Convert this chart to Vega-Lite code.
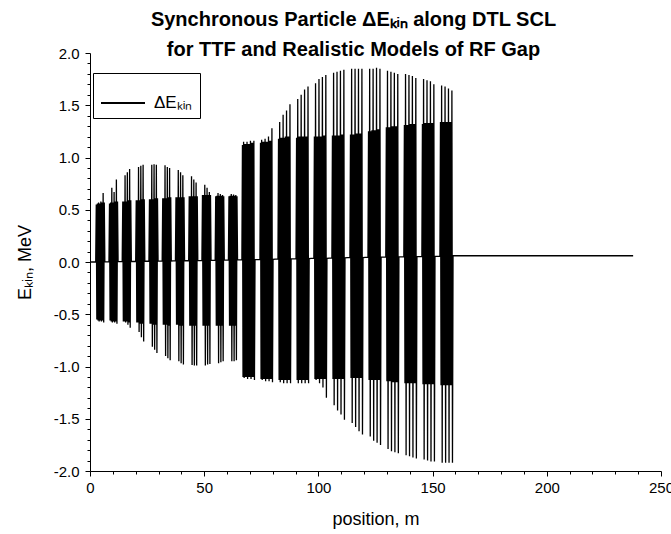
{
"$schema": "https://vega.github.io/schema/vega-lite/v6.json",
"width": 571, "height": 418,
"autosize": {"type": "none"},
"padding": {"left": 90, "top": 53, "right": 10, "bottom": 63},
"background": "white",
"title": {"text": ["Synchronous Particle ΔEₖᵢₙ along DTL SCL", "for TTF and Realistic Models of RF Gap"], "font": "Liberation Sans", "fontSize": 20, "fontWeight": "bold", "lineHeight": 30, "offset": -14, "dx": -22, "anchor": "middle", "color": "black"},
"data": {"values": [
{"x":0,"y":0},
{"x":2.5,"y":0},{"x":2.75,"y":0.55},{"x":3,"y":-0.55},{"x":3.25,"y":0.56},{"x":3.5,"y":-0.56},{"x":3.75,"y":0.57},{"x":4,"y":-0.57},{"x":4.25,"y":0.56},{"x":4.5,"y":-0.56},{"x":4.75,"y":0.58},{"x":5,"y":-0.57},{"x":5.25,"y":0.57},{"x":5.5,"y":-0.56},{"x":5.75,"y":0.66},{"x":6,"y":-0.58},{"x":6.25,"y":0.57},{"x":6.5,"y":0.002},
{"x":8.3,"y":0.003},{"x":8.55,"y":0.56},{"x":8.8,"y":-0.56},{"x":9.05,"y":0.57},{"x":9.3,"y":-0.57},{"x":9.55,"y":0.71},{"x":9.8,"y":-0.58},{"x":10.05,"y":0.57},{"x":10.3,"y":-0.57},{"x":10.55,"y":0.67},{"x":10.8,"y":-0.58},{"x":11.05,"y":0.58},{"x":11.3,"y":-0.57},{"x":11.55,"y":0.79},{"x":11.8,"y":-0.59},{"x":12.05,"y":0.58},{"x":12.3,"y":0.003},
{"x":14.1,"y":0.005},{"x":14.35,"y":0.58},{"x":14.6,"y":-0.57},{"x":14.85,"y":0.58},{"x":15.1,"y":-0.57},{"x":15.35,"y":0.83},{"x":15.6,"y":-0.58},{"x":15.85,"y":0.58},{"x":16.1,"y":-0.57},{"x":16.35,"y":0.86},{"x":16.6,"y":-0.6},{"x":16.85,"y":0.59},{"x":17.1,"y":-0.58},{"x":17.35,"y":0.89},{"x":17.6,"y":-0.63},{"x":17.85,"y":0.59},{"x":18.1,"y":0.005},
{"x":20,"y":0.007},{"x":20.25,"y":0.59},{"x":20.5,"y":-0.58},{"x":20.75,"y":0.59},{"x":21,"y":-0.58},{"x":21.25,"y":0.91},{"x":21.5,"y":-0.67},{"x":21.75,"y":0.59},{"x":22,"y":-0.59},{"x":22.25,"y":0.92},{"x":22.5,"y":-0.72},{"x":22.75,"y":0.6},{"x":23,"y":-0.59},{"x":23.25,"y":0.93},{"x":23.5,"y":-0.76},{"x":23.75,"y":0.6},{"x":24,"y":0.007},
{"x":25.8,"y":0.009},{"x":26.05,"y":0.6},{"x":26.3,"y":-0.59},{"x":26.55,"y":0.6},{"x":26.8,"y":-0.59},{"x":27.05,"y":0.93},{"x":27.3,"y":-0.81},{"x":27.55,"y":0.6},{"x":27.8,"y":-0.6},{"x":28.05,"y":0.935},{"x":28.3,"y":-0.84},{"x":28.55,"y":0.61},{"x":28.8,"y":-0.6},{"x":29.05,"y":0.93},{"x":29.3,"y":-0.87},{"x":29.55,"y":0.61},{"x":29.8,"y":0.009},
{"x":31.6,"y":0.01},{"x":31.85,"y":0.61},{"x":32.1,"y":-0.6},{"x":32.35,"y":0.61},{"x":32.6,"y":-0.6},{"x":32.85,"y":0.925},{"x":33.1,"y":-0.9},{"x":33.35,"y":0.61},{"x":33.6,"y":-0.6},{"x":33.85,"y":0.91},{"x":34.1,"y":-0.92},{"x":34.35,"y":0.62},{"x":34.6,"y":-0.61},{"x":34.85,"y":0.9},{"x":35.1,"y":-0.94},{"x":35.35,"y":0.62},{"x":35.6,"y":0.01},
{"x":37.4,"y":0.012},{"x":37.65,"y":0.62},{"x":37.9,"y":-0.6},{"x":38.15,"y":0.62},{"x":38.4,"y":-0.6},{"x":38.65,"y":0.88},{"x":38.9,"y":-0.95},{"x":39.15,"y":0.62},{"x":39.4,"y":-0.61},{"x":39.65,"y":0.86},{"x":39.9,"y":-0.97},{"x":40.15,"y":0.62},{"x":40.4,"y":-0.61},{"x":40.65,"y":0.83},{"x":40.9,"y":-0.98},{"x":41.15,"y":0.62},{"x":41.4,"y":0.012},
{"x":43.2,"y":0.014},{"x":43.45,"y":0.63},{"x":43.7,"y":-0.61},{"x":43.95,"y":0.63},{"x":44.2,"y":-0.61},{"x":44.45,"y":0.82},{"x":44.7,"y":-0.985},{"x":44.95,"y":0.63},{"x":45.2,"y":-0.61},{"x":45.45,"y":0.79},{"x":45.7,"y":-0.99},{"x":45.95,"y":0.63},{"x":46.2,"y":-0.61},{"x":46.45,"y":0.76},{"x":46.7,"y":-0.99},{"x":46.95,"y":0.63},{"x":47.2,"y":0.014},
{"x":49,"y":0.016},{"x":49.25,"y":0.64},{"x":49.5,"y":-0.61},{"x":49.75,"y":0.64},{"x":50,"y":-0.61},{"x":50.25,"y":0.74},{"x":50.5,"y":-0.99},{"x":50.75,"y":0.64},{"x":51,"y":-0.61},{"x":51.25,"y":0.71},{"x":51.5,"y":-0.98},{"x":51.75,"y":0.64},{"x":52,"y":-0.61},{"x":52.25,"y":0.67},{"x":52.5,"y":-0.975},{"x":52.75,"y":0.64},{"x":53,"y":0.016},
{"x":54.8,"y":0.018},{"x":55.05,"y":0.63},{"x":55.3,"y":-0.61},{"x":55.55,"y":0.635},{"x":55.8,"y":-0.61},{"x":56.05,"y":0.66},{"x":56.3,"y":-0.97},{"x":56.55,"y":0.635},{"x":56.8,"y":-0.61},{"x":57.05,"y":0.65},{"x":57.3,"y":-0.96},{"x":57.55,"y":0.635},{"x":57.8,"y":-0.61},{"x":58.05,"y":0.64},{"x":58.3,"y":-0.95},{"x":58.55,"y":0.63},{"x":58.8,"y":0.018},
{"x":60.6,"y":0.02},{"x":60.85,"y":0.63},{"x":61.1,"y":-0.61},{"x":61.35,"y":0.635},{"x":61.6,"y":-0.61},{"x":61.85,"y":0.65},{"x":62.1,"y":-0.95},{"x":62.35,"y":0.635},{"x":62.6,"y":-0.61},{"x":62.85,"y":0.645},{"x":63.1,"y":-0.95},{"x":63.35,"y":0.635},{"x":63.6,"y":-0.61},{"x":63.85,"y":0.64},{"x":64.1,"y":-0.94},{"x":64.35,"y":0.63},{"x":64.6,"y":0.02},
{"x":66.5,"y":0.022},{"x":66.75,"y":1.12},{"x":67,"y":-1.1},{"x":67.25,"y":1.15},{"x":67.5,"y":-1.11},{"x":67.75,"y":1.13},{"x":68,"y":-1.1},{"x":68.25,"y":1.13},{"x":68.5,"y":-1.1},{"x":68.75,"y":1.15},{"x":69,"y":-1.12},{"x":69.25,"y":1.13},{"x":69.5,"y":-1.1},{"x":69.75,"y":1.13},{"x":70,"y":-1.1},{"x":70.25,"y":1.16},{"x":70.5,"y":-1.12},{"x":70.75,"y":1.14},{"x":71,"y":-1.1},{"x":71.25,"y":1.14},{"x":71.5,"y":-1.1},{"x":71.75,"y":1.16},{"x":72,"y":-1.13},{"x":72.25,"y":0.022},
{"x":74.4,"y":0.026},{"x":74.65,"y":1.14},{"x":74.9,"y":-1.12},{"x":75.15,"y":1.17},{"x":75.4,"y":-1.13},{"x":75.65,"y":1.15},{"x":75.9,"y":-1.12},{"x":76.15,"y":1.15},{"x":76.4,"y":-1.12},{"x":76.65,"y":1.18},{"x":76.9,"y":-1.14},{"x":77.15,"y":1.15},{"x":77.4,"y":-1.12},{"x":77.65,"y":1.15},{"x":77.9,"y":-1.12},{"x":78.15,"y":1.2},{"x":78.4,"y":-1.14},{"x":78.65,"y":1.16},{"x":78.9,"y":-1.12},{"x":79.15,"y":1.16},{"x":79.4,"y":-1.12},{"x":79.65,"y":1.28},{"x":79.9,"y":-1.15},{"x":80.15,"y":0.026},
{"x":82.3,"y":0.03},{"x":82.55,"y":1.18},{"x":82.8,"y":-1.13},{"x":83.05,"y":1.34},{"x":83.3,"y":-1.15},{"x":83.55,"y":1.19},{"x":83.8,"y":-1.13},{"x":84.05,"y":1.19},{"x":84.3,"y":-1.13},{"x":84.55,"y":1.41},{"x":84.8,"y":-1.16},{"x":85.05,"y":1.19},{"x":85.3,"y":-1.13},{"x":85.55,"y":1.2},{"x":85.8,"y":-1.13},{"x":86.05,"y":1.45},{"x":86.3,"y":-1.16},{"x":86.55,"y":1.2},{"x":86.8,"y":-1.13},{"x":87.05,"y":1.2},{"x":87.3,"y":-1.13},{"x":87.55,"y":1.51},{"x":87.8,"y":-1.16},{"x":88.05,"y":0.03},
{"x":90.2,"y":0.033},{"x":90.45,"y":1.19},{"x":90.7,"y":-1.13},{"x":90.95,"y":1.56},{"x":91.2,"y":-1.16},{"x":91.45,"y":1.2},{"x":91.7,"y":-1.13},{"x":91.95,"y":1.2},{"x":92.2,"y":-1.13},{"x":92.45,"y":1.6},{"x":92.7,"y":-1.16},{"x":92.95,"y":1.2},{"x":93.2,"y":-1.13},{"x":93.45,"y":1.2},{"x":93.7,"y":-1.13},{"x":93.95,"y":1.65},{"x":94.2,"y":-1.16},{"x":94.45,"y":1.2},{"x":94.7,"y":-1.13},{"x":94.95,"y":1.2},{"x":95.2,"y":-1.13},{"x":95.45,"y":1.68},{"x":95.7,"y":-1.16},{"x":95.95,"y":0.033},
{"x":98,"y":0.036},{"x":98.25,"y":1.2},{"x":98.5,"y":-1.12},{"x":98.75,"y":1.71},{"x":99,"y":-1.13},{"x":99.25,"y":1.2},{"x":99.5,"y":-1.12},{"x":99.75,"y":1.2},{"x":100,"y":-1.12},{"x":100.25,"y":1.75},{"x":100.5,"y":-1.16},{"x":100.75,"y":1.2},{"x":101,"y":-1.12},{"x":101.25,"y":1.2},{"x":101.5,"y":-1.12},{"x":101.75,"y":1.77},{"x":102,"y":-1.2},{"x":102.25,"y":1.21},{"x":102.5,"y":-1.12},{"x":102.75,"y":1.21},{"x":103,"y":-1.12},{"x":103.25,"y":1.79},{"x":103.5,"y":-1.3},{"x":103.75,"y":0.036},
{"x":105.9,"y":0.04},{"x":106.15,"y":1.21},{"x":106.4,"y":-1.12},{"x":106.65,"y":1.81},{"x":106.9,"y":-1.37},{"x":107.15,"y":1.21},{"x":107.4,"y":-1.12},{"x":107.65,"y":1.21},{"x":107.9,"y":-1.12},{"x":108.15,"y":1.82},{"x":108.4,"y":-1.42},{"x":108.65,"y":1.21},{"x":108.9,"y":-1.12},{"x":109.15,"y":1.21},{"x":109.4,"y":-1.12},{"x":109.65,"y":1.83},{"x":109.9,"y":-1.46},{"x":110.15,"y":1.22},{"x":110.4,"y":-1.12},{"x":110.65,"y":1.22},{"x":110.9,"y":-1.12},{"x":111.15,"y":1.84},{"x":111.4,"y":-1.51},{"x":111.65,"y":0.04},
{"x":113.8,"y":0.043},{"x":114.05,"y":1.22},{"x":114.3,"y":-1.11},{"x":114.55,"y":1.85},{"x":114.8,"y":-1.54},{"x":115.05,"y":1.22},{"x":115.3,"y":-1.11},{"x":115.55,"y":1.22},{"x":115.8,"y":-1.11},{"x":116.05,"y":1.85},{"x":116.3,"y":-1.58},{"x":116.55,"y":1.23},{"x":116.8,"y":-1.11},{"x":117.05,"y":1.23},{"x":117.3,"y":-1.11},{"x":117.55,"y":1.85},{"x":117.8,"y":-1.62},{"x":118.05,"y":1.23},{"x":118.3,"y":-1.11},{"x":118.55,"y":1.23},{"x":118.8,"y":-1.11},{"x":119.05,"y":1.85},{"x":119.3,"y":-1.65},{"x":119.55,"y":0.043},
{"x":121.7,"y":0.046},{"x":121.95,"y":1.25},{"x":122.2,"y":-1.13},{"x":122.45,"y":1.85},{"x":122.7,"y":-1.67},{"x":122.95,"y":1.25},{"x":123.2,"y":-1.13},{"x":123.45,"y":1.26},{"x":123.7,"y":-1.13},{"x":123.95,"y":1.85},{"x":124.2,"y":-1.71},{"x":124.45,"y":1.26},{"x":124.7,"y":-1.13},{"x":124.95,"y":1.26},{"x":125.2,"y":-1.13},{"x":125.45,"y":1.86},{"x":125.7,"y":-1.73},{"x":125.95,"y":1.27},{"x":126.2,"y":-1.13},{"x":126.45,"y":1.27},{"x":126.7,"y":-1.13},{"x":126.95,"y":1.85},{"x":127.2,"y":-1.75},{"x":127.45,"y":0.046},
{"x":129.5,"y":0.049},{"x":129.75,"y":1.29},{"x":130,"y":-1.14},{"x":130.25,"y":1.83},{"x":130.5,"y":-1.79},{"x":130.75,"y":1.29},{"x":131,"y":-1.14},{"x":131.25,"y":1.29},{"x":131.5,"y":-1.14},{"x":131.75,"y":1.82},{"x":132,"y":-1.81},{"x":132.25,"y":1.3},{"x":132.5,"y":-1.15},{"x":132.75,"y":1.3},{"x":133,"y":-1.15},{"x":133.25,"y":1.81},{"x":133.5,"y":-1.82},{"x":133.75,"y":1.3},{"x":134,"y":-1.15},{"x":134.25,"y":1.3},{"x":134.5,"y":-1.15},{"x":134.75,"y":1.8},{"x":135,"y":-1.83},{"x":135.25,"y":0.049},
{"x":137.4,"y":0.051},{"x":137.65,"y":1.31},{"x":137.9,"y":-1.16},{"x":138.15,"y":1.8},{"x":138.4,"y":-1.85},{"x":138.65,"y":1.31},{"x":138.9,"y":-1.16},{"x":139.15,"y":1.31},{"x":139.4,"y":-1.16},{"x":139.65,"y":1.79},{"x":139.9,"y":-1.86},{"x":140.15,"y":1.32},{"x":140.4,"y":-1.16},{"x":140.65,"y":1.32},{"x":140.9,"y":-1.16},{"x":141.15,"y":1.78},{"x":141.4,"y":-1.87},{"x":141.65,"y":1.32},{"x":141.9,"y":-1.16},{"x":142.15,"y":1.32},{"x":142.4,"y":-1.16},{"x":142.65,"y":1.76},{"x":142.9,"y":-1.88},{"x":143.15,"y":0.051},
{"x":145.3,"y":0.053},{"x":145.55,"y":1.32},{"x":145.8,"y":-1.17},{"x":146.05,"y":1.75},{"x":146.3,"y":-1.89},{"x":146.55,"y":1.33},{"x":146.8,"y":-1.17},{"x":147.05,"y":1.33},{"x":147.3,"y":-1.17},{"x":147.55,"y":1.74},{"x":147.8,"y":-1.9},{"x":148.05,"y":1.33},{"x":148.3,"y":-1.17},{"x":148.55,"y":1.33},{"x":148.8,"y":-1.17},{"x":149.05,"y":1.73},{"x":149.3,"y":-1.91},{"x":149.55,"y":1.33},{"x":149.8,"y":-1.17},{"x":150.05,"y":1.33},{"x":150.3,"y":-1.17},{"x":150.55,"y":1.7},{"x":150.8,"y":-1.91},{"x":151.05,"y":0.053},
{"x":153.2,"y":0.055},{"x":153.45,"y":1.34},{"x":153.7,"y":-1.18},{"x":153.95,"y":1.69},{"x":154.2,"y":-1.92},{"x":154.45,"y":1.34},{"x":154.7,"y":-1.18},{"x":154.95,"y":1.34},{"x":155.2,"y":-1.18},{"x":155.45,"y":1.68},{"x":155.7,"y":-1.92},{"x":155.95,"y":1.34},{"x":156.2,"y":-1.18},{"x":156.45,"y":1.34},{"x":156.7,"y":-1.18},{"x":156.95,"y":1.66},{"x":157.2,"y":-1.92},{"x":157.45,"y":1.34},{"x":157.7,"y":-1.18},{"x":157.95,"y":1.34},{"x":158.2,"y":-1.18},{"x":158.45,"y":1.64},{"x":158.7,"y":-1.92},{"x":158.95,"y":0.06},
{"x":237.8,"y":0.06}
]},
"mark": {"type": "line", "strokeWidth": 1.3, "clip": true},
"encoding": {
  "x": {"field": "x", "type": "quantitative", "scale": {"domain": [0, 250], "nice": false, "zero": false},
    "axis": {"title": "position, m", "values": [0,10,20,30,40,50,60,70,80,90,100,110,120,130,140,150,160,170,180,190,200,210,220,230,240,250],
      "labelExpr": "datum.value % 50 === 0 ? format(datum.value, 'd') : ''",
      "tickSize": {"condition": {"test": "datum.value % 50 === 0", "value": 5}, "value": 3},
      "labelPadding": 4, "titlePadding": 15, "labelOverlap": false, "labelFlush": false}},
  "y": {"field": "y", "type": "quantitative", "scale": {"domain": [-2, 2], "nice": false, "zero": false},
    "axis": {"title": "Eₖᵢₙ, MeV", "values": [-2,-1.9,-1.8,-1.7,-1.6,-1.5,-1.4,-1.3,-1.2,-1.1,-1,-0.9,-0.8,-0.7,-0.6,-0.5,-0.4,-0.3,-0.2,-0.1,0,0.1,0.2,0.3,0.4,0.5,0.6,0.7,0.8,0.9,1,1.1,1.2,1.3,1.4,1.5,1.6,1.7,1.8,1.9,2],
      "labelExpr": "abs(datum.value*2-round(datum.value*2))<0.001 ? (datum.value<0 ? '-' : '') + format(abs(datum.value), '.1f') : ''",
      "tickSize": {"condition": {"test": "abs(datum.value*2-round(datum.value*2))<0.001", "value": 5}, "value": 3},
      "labelPadding": 6, "titlePadding": 19, "labelOverlap": false, "labelFlush": false}},
  "color": {"datum": "ΔEₖᵢₙ", "type": "nominal", "scale": {"range": ["black"]},
    "legend": {"title": null, "orient": "none", "legendX": 3, "legendY": 20, "symbolType": "stroke", "symbolSize": 1936, "symbolStrokeWidth": 2, "symbolStrokeColor": "black", "labelFontSize": 17, "labelFont": "Liberation Sans", "labelColor": "black", "strokeColor": "black", "fillColor": "white", "padding": 7, "labelOffset": 8}}
},
"config": {
  "font": "Liberation Sans",
  "view": {"stroke": null},
  "axis": {"domainColor": "black", "domainWidth": 1, "tickColor": "black", "tickWidth": 1, "labelColor": "black", "titleColor": "black", "grid": false, "labelFont": "Liberation Sans", "titleFont": "Liberation Sans", "titleFontWeight": "normal", "labelFontSize": 15, "titleFontSize": 18}
}
}
